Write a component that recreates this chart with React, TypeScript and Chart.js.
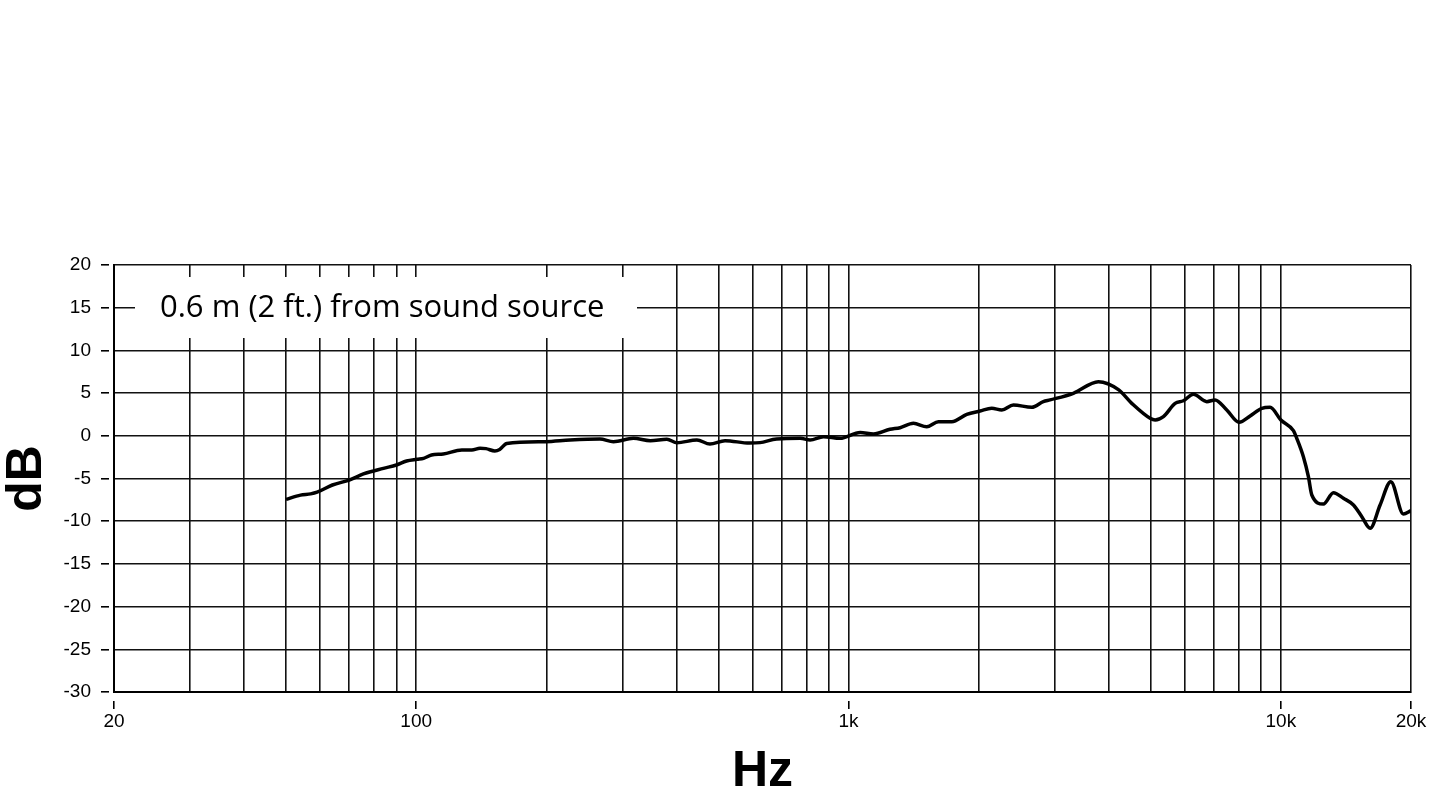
import React, { useEffect, useRef } from 'react';
import { Chart, registerables } from 'chart.js';

Chart.register(...registerables);

// Frequency response (Hz -> dB)
const FREQS = [
  50, 54, 57, 59, 64, 70, 75.5, 84, 90, 95, 100.5, 104, 108.5, 115.5, 127.5, 134.5, 140.5, 145, 152, 156,
  162, 199, 227, 266, 286, 318, 348, 380, 401, 446, 478, 518, 590, 624, 682, 773, 815, 875, 956,
  1064, 1142, 1247, 1316, 1413, 1517, 1614, 1733, 1877, 2015, 2144, 2262, 2406, 2654, 2822, 2926,
  3312, 3784, 4210, 4520, 4984, 5120, 5350, 5694, 5952, 6276, 6740, 7044, 7498, 8008, 8490, 9034,
  9442, 10000, 10692, 10886, 11275, 11580, 11792, 12544, 13230, 13954, 14720, 15392, 16088, 16966,
  17962, 19206, 20000,
];
const DB = [
  -7.45, -6.95, -6.8, -6.6, -5.76, -5.18, -4.47, -3.81, -3.42, -2.95, -2.75, -2.64, -2.25, -2.13, -1.66, -1.66, -1.46, -1.5, -1.78, -1.6,
  -0.9, -0.69, -0.49, -0.37, -0.69, -0.3, -0.57, -0.41, -0.81, -0.49, -0.96, -0.57, -0.85, -0.8, -0.37, -0.3, -0.49, -0.1, -0.3,
  0.4, 0.21, 0.76, 0.95, 1.46, 1.06, 1.65, 1.65, 2.51, 2.9, 3.22, 3.02, 3.61, 3.34, 4.0, 4.2,
  4.98, 6.33, 5.4, 3.8, 2.05, 1.85, 2.24, 3.8, 4.1, 4.86, 4.0, 4.2, 3.02, 1.58, 2.32, 3.22,
  3.34, 1.85, 0.6, -0.3, -2.45, -4.79, -6.93, -7.99, -6.66, -7.32, -8.1, -9.47, -10.83, -8.1,
  -5.37, -9.16, -8.77,
];

const X_GRID = [
  20, 30, 40, 50, 60, 70, 80, 90, 100, 200, 300, 400, 500, 600, 700, 800, 900, 1000,
  2000, 3000, 4000, 5000, 6000, 7000, 8000, 9000, 10000, 20000,
];
const X_LABELS: Record<number, string> = { 20: '20', 100: '100', 1000: '1k', 10000: '10k', 20000: '20k' };
const Y_MIN = -30;
const Y_MAX = 20;
const Y_STEP = 5;
const NOTE = '0.6 m (2 ft.) from sound source';
const X_TITLE = 'Hz';
const Y_TITLE = 'dB';

const SANS = '"Liberation Sans", Arial, Helvetica, sans-serif';

const notePlugin = {
  id: 'noteBox',
  beforeDatasetsDraw(chart: any) {
    const { ctx, chartArea } = chart;
    ctx.save();
    ctx.fillStyle = '#ffffff';
    ctx.fillRect(chartArea.left + 21, chartArea.top + 12, 502, 61);
    ctx.fillStyle = '#000000';
    ctx.font = '31px "Open Sans", sans-serif';
    ctx.textAlign = 'left';
    ctx.textBaseline = 'alphabetic';
    ctx.fillText(NOTE, chartArea.left + 46, chartArea.top + 52);
    ctx.restore();
  },
};

export default function App() {
  const ref = useRef<HTMLCanvasElement | null>(null);

  useEffect(() => {
    if (!ref.current) return;
    const chart = new Chart(ref.current, {
      type: 'line',
      data: {
        datasets: [
          {
            data: FREQS.map((f, i) => ({ x: f, y: DB[i] })),
            borderColor: '#000000',
            borderWidth: 3.5,
            pointRadius: 0,
            fill: false,
            cubicInterpolationMode: 'monotone',
          },
        ],
      },
      options: {
        responsive: false,
        animation: false,
        devicePixelRatio: 1,
        layout: { padding: { top: 265, right: 20, left: 0, bottom: 0 } },
        plugins: { legend: { display: false }, tooltip: { enabled: false } },
        scales: {
          x: {
            type: 'logarithmic',
            position: 'bottom',
            min: 20,
            max: 20000,
            afterBuildTicks: (s: any) => {
              s.ticks = X_GRID.map((v) => ({ value: v }));
            },
            afterFit: (s: any) => {
              s.height = 119;
            },
            grid: {
              color: '#111111',
              lineWidth: 1.6,
              tickLength: 17,
              tickWidth: 1.6,
              tickColor: (c: any) => (c.tick && X_LABELS[c.tick.value] ? '#000000' : 'rgba(0,0,0,0)'),
              tickBorderDash: [9, 8],
              tickBorderDashOffset: 9,
            },
            border: { display: true, color: '#000000', width: 2 },
            ticks: {
              autoSkip: false,
              maxRotation: 0,
              minRotation: 0,
              padding: 1,
              color: '#000000',
              font: { family: SANS, size: 19 },
              callback: (v: any) => X_LABELS[Number(v)] ?? '',
            },
            title: {
              display: true,
              text: X_TITLE,
              color: '#000000',
              font: { family: SANS, size: 50, weight: 'bold', lineHeight: 1 },
              padding: { top: 0, bottom: 14 },
            },
          },
          y: {
            min: Y_MIN,
            max: Y_MAX,
            afterFit: (s: any) => {
              s.width = 114;
            },
            grid: {
              color: '#111111',
              lineWidth: 1.6,
              tickLength: 13,
              tickWidth: 1.6,
              tickColor: '#000000',
              tickBorderDash: [8, 100],
            },
            border: { display: true, color: '#000000', width: 2 },
            ticks: {
              stepSize: Y_STEP,
              padding: 10,
              color: '#000000',
              font: { family: SANS, size: 19 },
            },
            title: {
              display: true,
              text: Y_TITLE,
              color: '#000000',
              font: { family: SANS, size: 50, weight: 'bold', lineHeight: 1 },
              padding: { top: 2.5, bottom: 0 },
            },
          },
        },
      } as any,
      plugins: [notePlugin],
    });
    return () => chart.destroy();
  }, []);

  return (
    <div style={{ position: 'absolute', left: 0, top: 0, width: 1431, height: 811, background: '#fff' }}>
      <canvas ref={ref} width={1431} height={811} style={{ display: 'block' }} />
    </div>
  );
}
